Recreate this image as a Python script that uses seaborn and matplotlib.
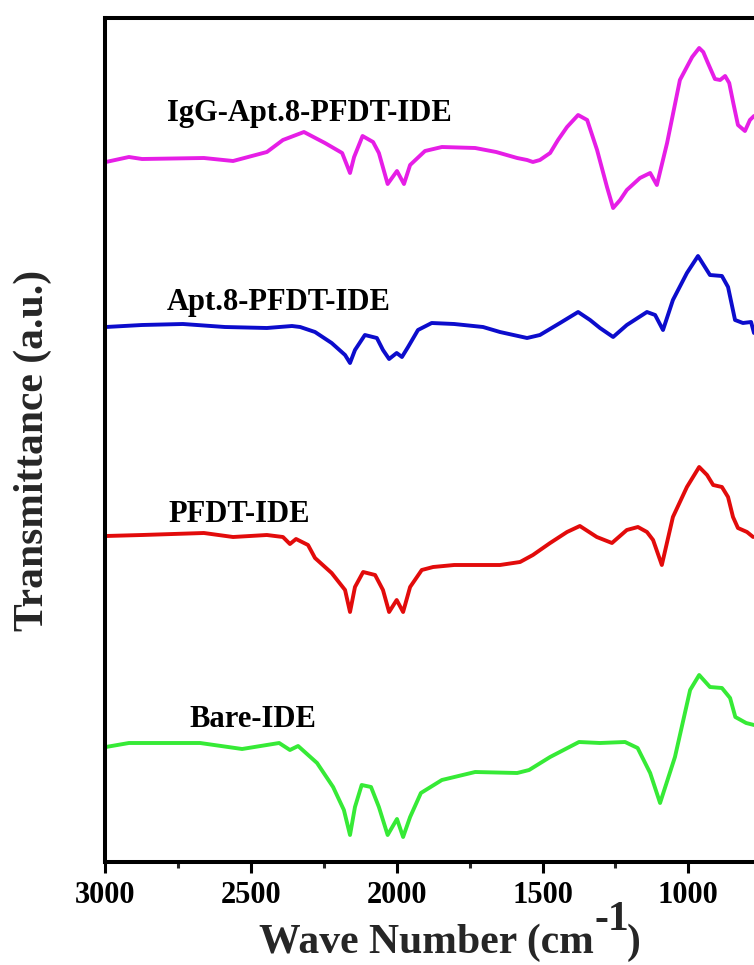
import numpy as np
import pandas as pd
import matplotlib
matplotlib.use("Agg")
import matplotlib.pyplot as plt
from matplotlib.ticker import MultipleLocator
import seaborn as sns

# FTIR spectra (wavenumber in cm^-1, transmittance in stacked arbitrary units)
igg_wn = [2997, 2918, 2873, 2661, 2561, 2445, 2390, 2318, 2246, 2187, 2160, 2146,
          2117, 2081, 2061, 2031, 1999, 1975, 1954, 1903, 1845, 1731, 1659, 1587,
          1553, 1533, 1509, 1474, 1447, 1416, 1378, 1347, 1313, 1279, 1258, 1234,
          1211, 1166, 1131, 1108, 1073, 1029, 987, 963, 949, 933, 909, 891, 874,
          860, 846, 830, 806, 789, 775]
igg_t = [7.00, 7.05, 7.03, 7.04, 7.01, 7.10, 7.22, 7.30, 7.19, 7.09, 6.89, 7.05,
         7.26, 7.20, 7.09, 6.78, 6.91, 6.78, 6.97, 7.11, 7.15, 7.14, 7.10, 7.04,
         7.02, 7.00, 7.02, 7.09, 7.22, 7.35, 7.47, 7.42, 7.12, 6.75, 6.54, 6.62,
         6.72, 6.84, 6.89, 6.77, 7.19, 7.82, 8.05, 8.14, 8.10, 7.99, 7.83, 7.82, 7.86,
         7.79, 7.59, 7.37, 7.31, 7.42, 7.46]

apt_wn = [2997, 2873, 2733, 2589, 2445, 2359, 2331, 2280, 2223, 2177, 2160, 2143,
          2109, 2068, 2047, 2026, 2000, 1982, 1961, 1927, 1880, 1803, 1704, 1646,
          1553, 1509, 1440, 1378, 1337, 1303, 1258, 1211, 1142, 1114, 1087, 1053,
          1005, 967, 926, 885, 864, 840, 813, 785, 775]
apt_t = [5.35, 5.37, 5.38, 5.35, 5.34, 5.36, 5.35, 5.30, 5.19, 5.07, 4.99, 5.12,
         5.27, 5.24, 5.12, 5.03, 5.09, 5.05, 5.15, 5.32, 5.39, 5.38, 5.35, 5.30,
         5.24, 5.27, 5.39, 5.50, 5.42, 5.34, 5.25, 5.37, 5.50, 5.47, 5.32, 5.62,
         5.89, 6.06, 5.87, 5.86, 5.75, 5.42, 5.39, 5.40, 5.29]

pfdt_wn = [2997, 2873, 2661, 2561, 2445, 2390, 2366, 2345, 2304, 2280, 2223, 2177,
           2160, 2143, 2115, 2074, 2047, 2026, 2000, 1978, 1954, 1914, 1875, 1803,
           1646, 1577, 1533, 1474, 1416, 1372, 1314, 1262, 1211, 1173, 1142, 1121,
           1091, 1053, 1005, 963, 936, 915, 885, 864, 847, 830, 799, 778]
pfdt_t = [3.26, 3.27, 3.29, 3.25, 3.27, 3.25, 3.18, 3.23, 3.17, 3.04, 2.89, 2.72,
          2.50, 2.75, 2.90, 2.87, 2.72, 2.50, 2.62, 2.50, 2.75, 2.92, 2.95, 2.97,
          2.97, 3.00, 3.07, 3.19, 3.30, 3.36, 3.25, 3.19, 3.32, 3.35, 3.30, 3.22,
          2.97, 3.45, 3.75, 3.95, 3.87, 3.77, 3.75, 3.65, 3.45, 3.34, 3.30, 3.25]

bare_wn = [2997, 2918, 2674, 2530, 2403, 2366, 2338, 2273, 2218, 2181, 2160, 2143,
           2120, 2088, 2061, 2031, 1999, 1978, 1954, 1917, 1845, 1731, 1587, 1546,
           1474, 1375, 1303, 1217, 1174, 1131, 1097, 1046, 994, 963, 926, 885, 857,
           839, 802, 775]
bare_t = [1.15, 1.19, 1.19, 1.13, 1.19, 1.12, 1.16, 0.99, 0.75, 0.52, 0.27, 0.55,
          0.77, 0.75, 0.55, 0.27, 0.43, 0.25, 0.45, 0.69, 0.82, 0.90, 0.89, 0.92,
          1.05, 1.20, 1.19, 1.20, 1.14, 0.89, 0.59, 1.05, 1.72, 1.87, 1.75, 1.74, 1.64,
          1.45, 1.39, 1.37]

samples = ["IgG-Apt.8-PFDT-IDE", "Apt.8-PFDT-IDE", "PFDT-IDE", "Bare-IDE"]
colors = ["#e61ee6", "#0c0ccc", "#e20b0b", "#36ea36"]
label_wn = [2787, 2787, 2781, 2709]
label_t = [7.41, 5.52, 3.40, 1.35]

frames = []
for name, wn, t in zip(samples,
                       [igg_wn, apt_wn, pfdt_wn, bare_wn],
                       [igg_t, apt_t, pfdt_t, bare_t]):
    frames.append(pd.DataFrame({"wn": wn, "t": t, "sample": name}))
df = pd.concat(frames, ignore_index=True)

sns.set_style("ticks")
plt.rcParams["font.family"] = ["Liberation Serif", "DejaVu Serif"]
plt.rcParams["font.weight"] = "bold"

fig = plt.figure(figsize=(7.54, 9.65), dpi=100)
ax = fig.add_axes([105 / 754, 1 - 862 / 965, 1 - 105 / 754, (862 - 18) / 965])

sns.lineplot(data=df, x="wn", y="t", hue="sample", palette=dict(zip(samples, colors)),
             estimator=None, sort=False, linewidth=2.8, legend=False, ax=ax)
for line in ax.get_lines():
    line.set_solid_joinstyle("round")
    line.set_solid_capstyle("round")

ax.set_xlim(3000, 775)
ax.set_ylim(0, 8.44)
ax.set_xlabel("")
ax.set_ylabel("")
ax.set_yticks([])
ax.xaxis.set_major_locator(MultipleLocator(500))
ax.xaxis.set_minor_locator(MultipleLocator(250))
ax.tick_params(axis="x", which="major", direction="out", length=8, width=2.2,
               labelsize=22, pad=6, colors="black")
ax.tick_params(axis="x", which="minor", direction="out", length=4, width=2.2)
for lab in ax.get_xticklabels():
    lab.set_fontweight("bold")

ax.spines["right"].set_visible(False)
for side in ["left", "top", "bottom"]:
    ax.spines[side].set_linewidth(2.9)
    ax.spines[side].set_color("black")

for name, x, y in zip(samples, label_wn, label_t):
    ax.text(x, y, name, fontsize=22, fontweight="bold", ha="left", va="baseline",
            color="black")

# axis titles
fig.text(33 / 754, 1 - 450 / 965, "Transmittance (a.u.)", rotation=90,
         fontsize=30, fontweight="bold", ha="center", va="center")
fig.text(594 / 754, 1 - 953 / 965, "Wave Number (cm",
         fontsize=30, fontweight="bold", ha="right", va="baseline")
fig.text(594 / 754, 1 - 930 / 965, "-1",
         fontsize=30, fontweight="bold", ha="left", va="baseline")
fig.text(627 / 754, 1 - 953 / 965, ")",
         fontsize=30, fontweight="bold", ha="left", va="baseline")

fig.savefig("out.png", dpi=100)
